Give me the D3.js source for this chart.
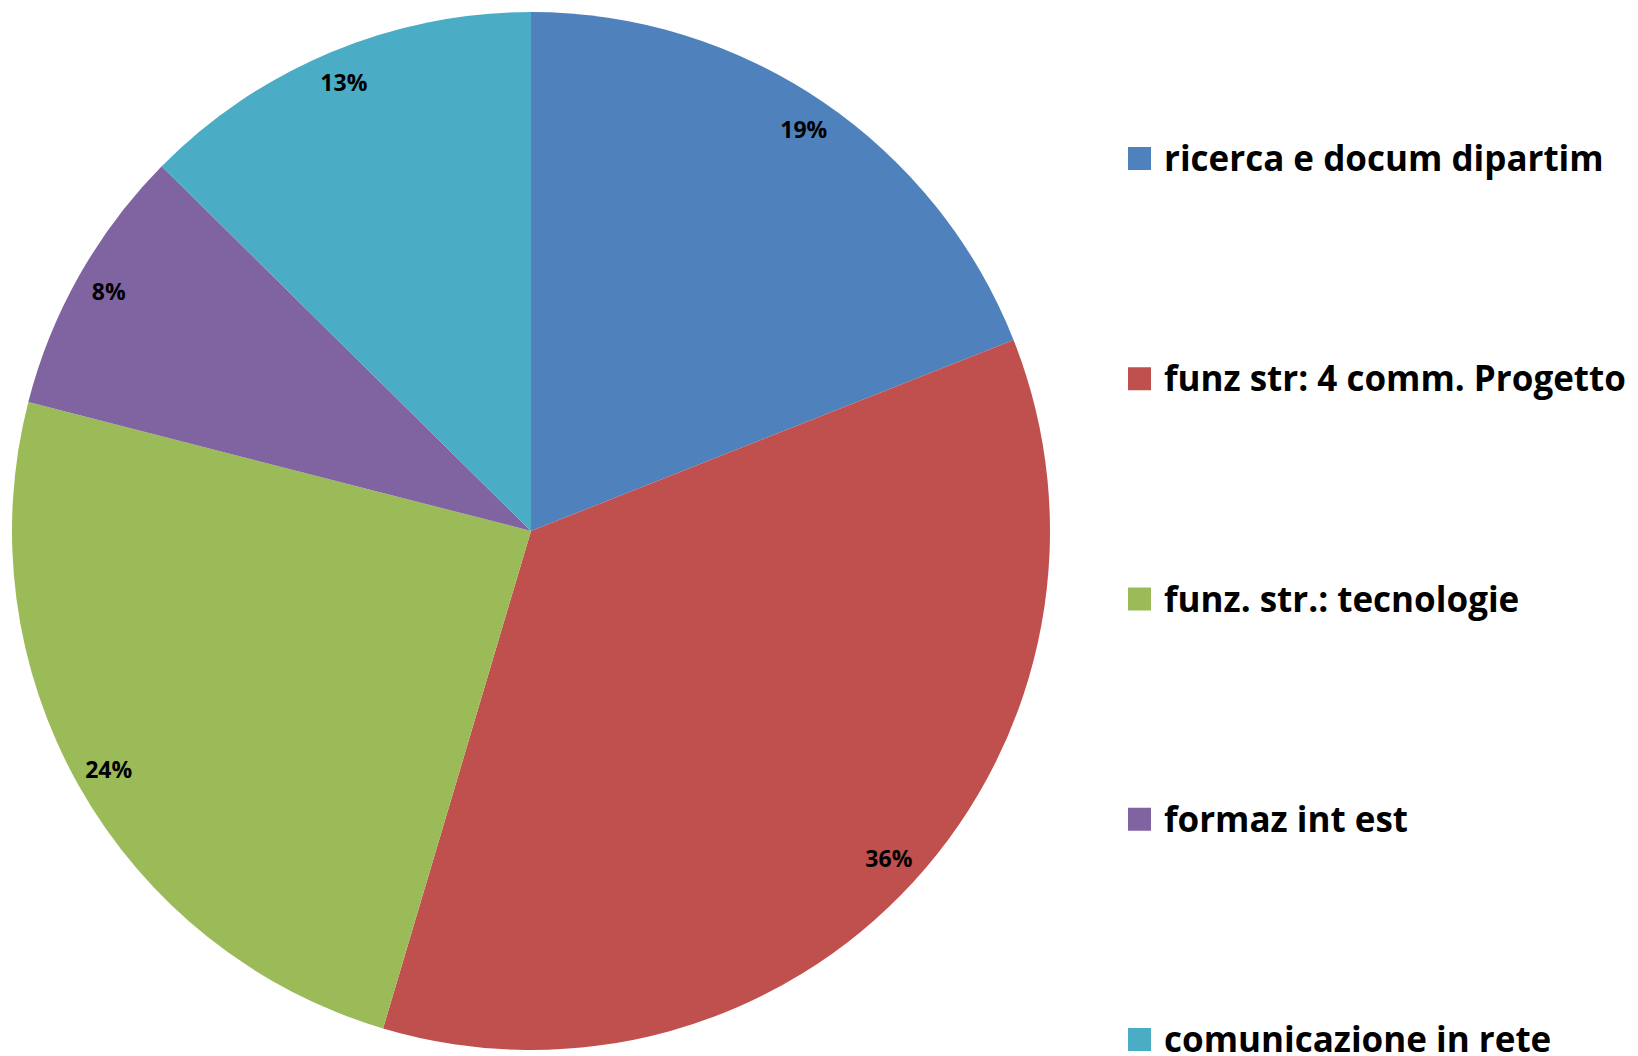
<!DOCTYPE html>
<html>
<head>
<meta charset="utf-8">
<script src="https://cdn.jsdelivr.net/npm/d3@7"></script>
<style>
  body { margin: 0; background: #fff; }
  svg { display: block; }
</style>
</head>
<body>
<div id="chart"></div>
<script>
// categories and their shares (percent)
var categories = ["ricerca e docum dipartim", "funz str: 4 comm. Progetto", "funz. str.: tecnologie", "formaz int est", "comunicazione in rete"];
var values = [19.0, 35.6, 24.4, 8.4, 12.6];
var colors = ["#4F81BD", "#C0504D", "#9BBB59", "#8064A2", "#4BACC6"];

var width = 1638, height = 1056;
var cx = 531, cy = 531, radius = 519;

var data = categories.map(function(c, i) { return { name: c, value: values[i], color: colors[i] }; });
var total = d3.sum(values);

var svg = d3.select("#chart")
  .append("svg")
  .attr("width", width)
  .attr("height", height);

var pie = d3.pie()
  .sort(null)
  .value(function(d) { return d.value; });

var arc = d3.arc().innerRadius(0).outerRadius(radius);
var labelArc = d3.arc().innerRadius(radius * 0.935).outerRadius(radius * 0.935);

var g = svg.append("g")
  .attr("transform", "translate(" + cx + "," + cy + ")");

g.selectAll("path")
  .data(pie(data))
  .enter()
  .append("path")
  .attr("d", arc)
  .attr("fill", function(d) { return d.data.color; });

g.selectAll("text.pct")
  .data(pie(data))
  .enter()
  .append("text")
  .attr("class", "pct")
  .attr("transform", function(d) { return "translate(" + labelArc.centroid(d) + ")"; })
  .attr("text-anchor", "middle")
  .attr("dy", "0.35em")
  .style("font-family", "'Open Sans', sans-serif")
  .style("font-weight", "bold")
  .style("font-size", "23px")
  .text(function(d) { return Math.round(d.data.value / total * 100) + "%"; });

// legend
var legendY = d3.scalePoint()
  .domain(categories)
  .range([159, 1040]);

var legend = svg.selectAll("g.legend")
  .data(data)
  .enter()
  .append("g")
  .attr("class", "legend")
  .attr("transform", function(d) { return "translate(1128," + legendY(d.name) + ")"; });

legend.append("rect")
  .attr("x", 0)
  .attr("y", -12)
  .attr("width", 23)
  .attr("height", 23)
  .attr("fill", function(d) { return d.color; });

legend.append("text")
  .attr("x", 36)
  .attr("y", 12)
  .style("font-family", "'Open Sans', sans-serif")
  .style("font-weight", "bold")
  .style("font-size", "35px")
  .style("fill", "#000")
  .text(function(d) { return d.name; });
</script>
</body>
</html>
